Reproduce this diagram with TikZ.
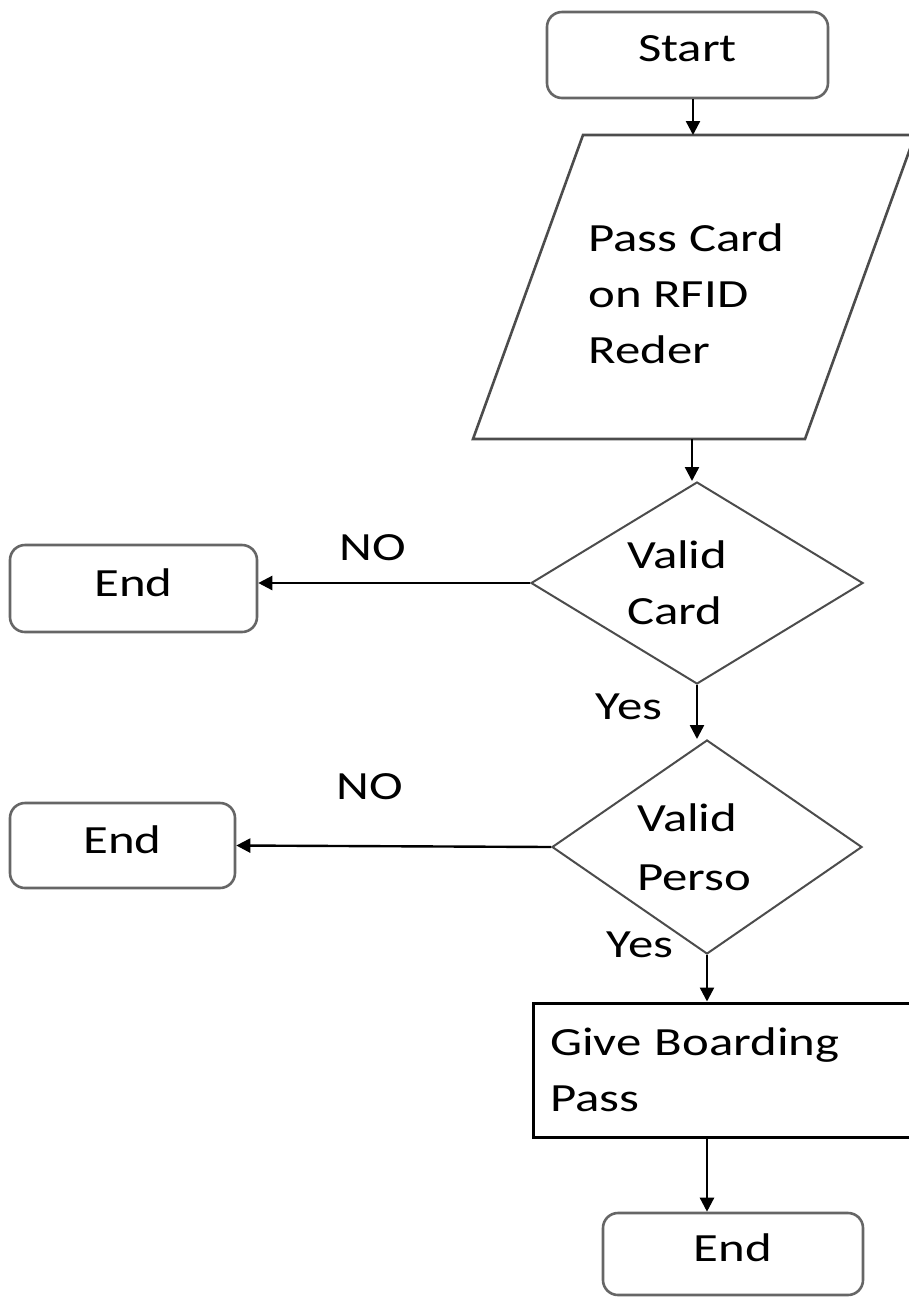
\documentclass[tikz,border=0pt]{standalone}
\usepackage{fontspec}
\setmainfont{Carlito}[FakeStretch=1.27]
\usetikzlibrary{shapes.geometric, arrows.meta, positioning}
\newdimen\pxu \pxu=0.5pt

\begin{document}
\begin{tikzpicture}[
    x=0.5pt, y=-0.5pt,
    font=\fontsize{20}{28}\selectfont,
    term/.style={rectangle, rounded corners=15\pxu, draw=black!60, line width=1.3pt, inner sep=0pt, text depth=6pt},
    dec/.style={diamond, draw=black!70, line width=1pt, inner sep=0pt, text width=140\pxu, align=left},
    proc/.style={rectangle, draw, line width=1.5pt, inner xsep=17\pxu, align=left},
    arr/.style={draw, -{Triangle[width=7pt, length=7pt]}, line width=1.2pt},
    lbl/.style={inner sep=0pt}
]
    \useasboundingbox (0,0) rectangle (909,1297);
    \clip (0,0) rectangle (909,1297);

    \node [term, minimum width=281\pxu, minimum height=86\pxu] (start) at (687.5,55) {Start};

    % input: parallelogram
    \draw [black!70, line width=1.3pt] (473,439) -- (583,135) -- (915,135) -- (805,439) -- cycle;
    \node [inner sep=0pt, align=left, anchor=west] (card) at (588,294) {Pass Card\\on RFID\\Reder};
    \coordinate (inTop) at (693,135);
    \coordinate (inBot) at (692,439);

    \node [dec, minimum width=332\pxu, minimum height=202\pxu, aspect=1.64] (valid1) at (697,583) {Valid\\Card};
    \node [term, minimum width=247\pxu, minimum height=87\pxu] (end1) at (133.5,588.5) {End};

    \node [dec, minimum width=310\pxu, minimum height=214\pxu, aspect=1.45, font=\fontsize{20}{29.5}\selectfont] (valid2) at (707,847) {Valid\\Perso};
    \node [term, minimum width=225\pxu, minimum height=85\pxu] (end2) at (122.5,845.5) {End};

    \node [proc, minimum width=397\pxu, minimum height=134\pxu, text width=363\pxu] (pass) at (731.5,1070) {Give Boarding\\Pass};
    \node [term, minimum width=260\pxu, minimum height=82\pxu] (end3) at (733,1254) {End};

    \node [lbl] (no1) at (373,548) {NO};
    \node [lbl] (yes1) at (629,707) {Yes};
    \node [lbl] (no2) at (370,787) {NO};
    \node [lbl] (yes2) at (640,945) {Yes};

    \path [arr] (start.south -| inTop) -- (inTop);
    \path [arr] (inBot) -- (inBot |- valid1.north);
    \path [arr] (valid1.west) -- (valid1.west -| end1.east);
    \path [arr] (valid1.south) -- (valid1.south |- valid2.north);
    \path [arr] (valid2.west) -- (end2.east);
    \path [arr] (valid2.south) -- (valid2.south |- pass.north);
    \path [arr] (pass.south -| valid2.south) -- (end3.north -| valid2.south);
\end{tikzpicture}
\end{document}
